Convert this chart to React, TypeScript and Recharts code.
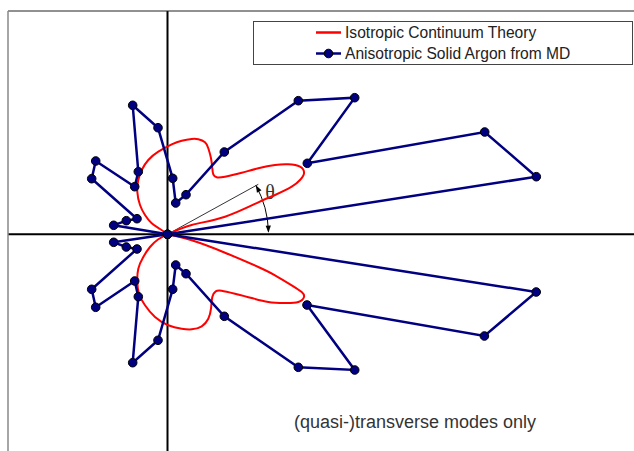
import React from 'react';
import { ScatterChart, Scatter, XAxis, YAxis, ReferenceLine, ReferenceDot, Legend } from 'recharts';

// MD data (anisotropic solid argon), traced around the polar plot, x/y in plot units
const mdX = [0, 3.688, 3.172, 1.398, 1.872, 1.308, 0.568, 0.185, 0.082, 0.052, -0.095, -0.348, -0.292, -0.328, -0.718, -0.758, -0.305, -0.412, -0.538, 0, -0.538, -0.412, -0.305, -0.758, -0.718, -0.328, -0.292, -0.348, -0.095, 0.052, 0.082, 0.185, 0.568, 1.308, 1.872, 1.395, 3.169, 3.687, 0];
const mdY = [0, 0.576, 1.023, 0.71, 1.366, 1.336, 0.823, 0.396, 0.313, 0.56, 1.066, 1.29, 0.626, 0.476, 0.733, 0.556, 0.156, 0.136, 0.09, 0, -0.08, -0.127, -0.147, -0.55, -0.73, -0.467, -0.624, -1.284, -1.06, -0.55, -0.307, -0.394, -0.82, -1.33, -1.357, -0.707, -1.017, -0.577, 0];

// Isotropic continuum theory, upper loop
const thUX = [0, 0.242, 0.575, 0.908, 1.075, 1.242, 1.325, 1.365, 1.325, 1.208, 1.075, 0.908, 0.742, 0.575, 0.492, 0.458, 0.448, 0.435, 0.408, 0.375, 0.308, 0.242, 0.142, 0.042, -0.092, -0.192, -0.258, -0.292, -0.302, -0.275, -0.225, -0.158, -0.075, 0];
const thUY = [0, 0.093, 0.176, 0.32, 0.393, 0.476, 0.543, 0.61, 0.676, 0.7, 0.693, 0.66, 0.616, 0.576, 0.57, 0.6, 0.66, 0.76, 0.86, 0.92, 0.95, 0.953, 0.936, 0.9, 0.826, 0.743, 0.643, 0.543, 0.426, 0.293, 0.193, 0.11, 0.053, 0];
// Isotropic continuum theory, lower loop
const thLX = [0, 0.242, 0.575, 0.908, 1.075, 1.242, 1.342, 1.365, 1.308, 1.175, 1.008, 0.842, 0.675, 0.542, 0.482, 0.448, 0.435, 0.408, 0.342, 0.242, 0.142, 0.008, -0.125, -0.225, -0.285, -0.302, -0.292, -0.242, -0.175, -0.092, 0];
const thLY = [0, -0.06, -0.184, -0.327, -0.41, -0.51, -0.577, -0.627, -0.677, -0.687, -0.677, -0.637, -0.594, -0.564, -0.57, -0.627, -0.744, -0.844, -0.92, -0.95, -0.944, -0.91, -0.827, -0.71, -0.594, -0.477, -0.344, -0.227, -0.127, -0.05, 0];

// angle indicator line end
const thetaRayX = 0.908;
const thetaRayY = 0.5;

const seriesNames = ['Isotropic Continuum Theory', 'Anisotropic Solid Argon from MD'];
const noteText = '(quasi-)transverse modes only';

const xDomain: [number, number] = [-1.595, 4.725];
const yDomain: [number, number] = [-2.257, 2.233];

const toPts = (xs: number[], ys: number[]) => xs.map((x, i) => ({ x, y: ys[i] }));
const mdData = toPts(mdX, mdY);
const thUpper = toPts(thUX, thUY);
const thLower = toPts(thLX, thLY);

const NAVY = '#000080';
const RED = '#ff0000';
const FONT = '"Liberation Sans", Arial, sans-serif';

const Marker = (props: any) => {
  const { cx, cy } = props;
  if (cx == null || cy == null) return <g />;
  return <circle cx={cx} cy={cy} r={4.3} fill={NAVY} stroke="#000" strokeWidth={1} />;
};

const NoShape = () => <g />;

const AngleArc = (props: any) => {
  const { cx, cy } = props;
  if (cx == null || cy == null) return <g />;
  const R = 101;
  const a1 = (1.5 * Math.PI) / 180;
  const a2 = (29 * Math.PI) / 180;
  const p = (a: number) => [cx + R * Math.cos(a), cy - R * Math.sin(a)];
  const [x1, y1] = p(a1);
  const [x2, y2] = p(a2);
  const head = (x: number, y: number, dx: number, dy: number) => {
    const L = 7;
    const W = 2.6;
    const bx = x - dx * L;
    const by = y - dy * L;
    const nx = -dy;
    const ny = dx;
    return `${x},${y} ${bx + nx * W},${by + ny * W} ${bx - nx * W},${by - ny * W}`;
  };
  return (
    <g>
      <path d={`M${x1},${y1} A${R},${R} 0 0 0 ${x2},${y2}`} fill="none" stroke="#000" strokeWidth={1} />
      <polygon points={head(x1, y1 + 1, Math.sin(a1), Math.cos(a1))} fill="#000" />
      <polygon points={head(x2, y2, -Math.sin(a2), -Math.cos(a2))} fill="#000" />
      <text x={cx + 102.5} y={cy - 35.5} textAnchor="middle" fontFamily='"Liberation Serif", "Times New Roman", serif' fontSize={20} fill="#333">θ</text>
    </g>
  );
};

const LegendBox = () => (
  <svg width={381} height={44} style={{ display: 'block' }}>
    <rect x={0.5} y={0.5} width={379} height={43} fill="#fff" stroke="#444" strokeWidth={1} />
    <line x1={63} x2={88} y1={11.5} y2={11.5} stroke={RED} strokeWidth={2.5} />
    <text x={92} y={16.8} fontFamily={FONT} fontSize={15.6} fill="#222">{seriesNames[0]}</text>
    <line x1={63} x2={88} y1={32.5} y2={32.5} stroke={NAVY} strokeWidth={2.5} />
    <circle cx={75.5} cy={32.5} r={4.3} fill={NAVY} stroke="#000" strokeWidth={1} />
    <text x={92} y={38.3} fontFamily={FONT} fontSize={15.6} fill="#222">{seriesNames[1]}</text>
  </svg>
);

export default function App() {
  return (
    <div style={{ position: 'absolute', left: 0, top: 0, width: 634, height: 451, overflow: 'hidden', background: '#fff' }}>
      <ScatterChart width={640} height={460} margin={{ top: 10, right: 0, bottom: 0, left: 7 }}>
        <XAxis
          type="number"
          dataKey="x"
          orientation="top"
          domain={xDomain}
          allowDataOverflow
          height={1}
          tick={false}
          tickLine={false}
          axisLine={{ stroke: '#222', strokeWidth: 1 }}
        />
        <YAxis
          type="number"
          dataKey="y"
          domain={yDomain}
          allowDataOverflow
          width={1}
          tick={false}
          tickLine={false}
          axisLine={{ stroke: '#888', strokeWidth: 1.5 }}
        />
        <ReferenceLine x={0} stroke="#000" strokeWidth={2} />
        <ReferenceLine y={0} stroke="#000" strokeWidth={2} />
        <ReferenceLine segment={[{ x: 0, y: 0 }, { x: thetaRayX, y: thetaRayY }]} stroke="#000" strokeWidth={0.8} />
        <ReferenceDot x={0} y={0} r={0} shape={AngleArc} />
        <Scatter
          name={seriesNames[0]}
          data={thUpper}
          fill={RED}
          line={{ stroke: RED, strokeWidth: 2 }}
          lineType="joint"
          lineJointType="natural"
          shape={NoShape}
          isAnimationActive={false}
          legendType="line"
        />
        <Scatter
          name={seriesNames[0] + ' '}
          data={thLower}
          fill={RED}
          line={{ stroke: RED, strokeWidth: 2 }}
          lineType="joint"
          lineJointType="natural"
          shape={NoShape}
          isAnimationActive={false}
          legendType="none"
        />
        <Scatter
          name={seriesNames[1]}
          data={mdData}
          fill={NAVY}
          line={{ stroke: NAVY, strokeWidth: 2.5 }}
          lineType="joint"
          lineJointType="linear"
          shape={Marker}
          isAnimationActive={false}
        />
        <Legend
          layout="horizontal"
          verticalAlign="middle"
          align="center"
          content={LegendBox}
          wrapperStyle={{ left: 253, top: 21, width: 381, height: 44, lineHeight: 0 }}
        />
      </ScatterChart>
      <svg width={634} height={451} style={{ position: 'absolute', left: 0, top: 0, pointerEvents: 'none' }}>
        <text x={294} y={428} fontFamily={FONT} fontSize={18} fill="#333">{noteText}</text>
      </svg>
    </div>
  );
}
